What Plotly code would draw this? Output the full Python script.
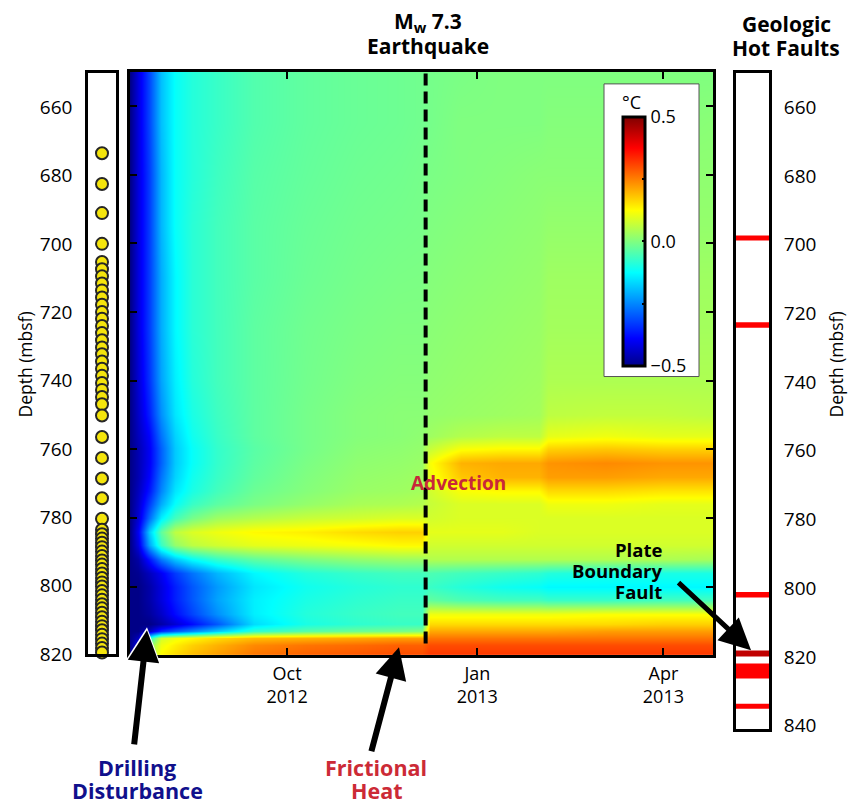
import plotly.graph_objects as go

# The photographed page comes out vertically compressed by ~804/816, so the figure is
# made 816 px tall; paper positions below are given in reference-picture pixels.
W, H = 853, 816
REF_H = 804
VS = H / REF_H
def px(x): return x / W
def py(y): return 1 - y / REF_H

# ---------------- data ----------------
dates = ["2012-07-17", "2012-07-21", "2012-07-26", "2012-08-01", "2012-08-08",
         "2012-08-16", "2012-08-28", "2012-09-15", "2012-10-10", "2012-11-04",
         "2012-11-24", "2012-12-05", "2012-12-09", "2012-12-24", "2013-01-13",
         "2013-01-31", "2013-02-04", "2013-03-04", "2013-04-01", "2013-04-25"]

depth = [650, 665, 680, 695, 710, 725, 740, 750, 756, 760, 764, 768, 772, 776,
         780, 784, 788, 792, 796, 800, 804, 808, 811, 813, 815, 817, 820]

temp_anomaly = [
    [-0.5, -0.42, -0.32, -0.19, -0.12, -0.09, -0.07, -0.045, -0.03, -0.022, -0.018, -0.014, -0.01, -0.005, 0.0, 0.0, 0.0, 0.0, 0.0, 0.0],
    [-0.5, -0.42, -0.32, -0.19, -0.12, -0.09, -0.07, -0.045, -0.03, -0.022, -0.018, -0.014, -0.01, 0.0, 0.0, 0.0, 0.005, 0.005, 0.005, 0.01],
    [-0.5, -0.42, -0.33, -0.2, -0.12, -0.09, -0.065, -0.04, -0.027, -0.018, -0.014, -0.01, -0.005, 0.0, 0.005, 0.01, 0.01, 0.01, 0.015, 0.015],
    [-0.5, -0.42, -0.33, -0.2, -0.12, -0.085, -0.06, -0.037, -0.023, -0.014, -0.01, -0.008, 0.0, 0.005, 0.01, 0.015, 0.02, 0.02, 0.02, 0.02],
    [-0.5, -0.42, -0.33, -0.21, -0.13, -0.085, -0.06, -0.037, -0.02, -0.01, -0.005, -0.004, 0.005, 0.01, 0.015, 0.02, 0.03, 0.03, 0.03, 0.03],
    [-0.5, -0.42, -0.33, -0.21, -0.13, -0.085, -0.06, -0.033, -0.015, -0.005, 0.0, 0.0, 0.01, 0.015, 0.02, 0.025, 0.035, 0.035, 0.035, 0.035],
    [-0.5, -0.43, -0.34, -0.22, -0.14, -0.09, -0.06, -0.033, -0.013, 0.0, 0.005, 0.005, 0.015, 0.02, 0.025, 0.03, 0.045, 0.045, 0.045, 0.045],
    [-0.5, -0.44, -0.36, -0.24, -0.15, -0.1, -0.065, -0.033, -0.01, 0.005, 0.01, 0.01, 0.02, 0.025, 0.03, 0.035, 0.06, 0.065, 0.065, 0.06],
    [-0.5, -0.45, -0.39, -0.27, -0.17, -0.11, -0.07, -0.033, -0.01, 0.005, 0.01, 0.015, 0.03, 0.05, 0.06, 0.06, 0.1, 0.11, 0.1, 0.1],
    [-0.5, -0.46, -0.4, -0.29, -0.18, -0.12, -0.075, -0.038, -0.01, 0.01, 0.015, 0.02, 0.07, 0.12, 0.13, 0.13, 0.17, 0.18, 0.17, 0.17],
    [-0.5, -0.46, -0.4, -0.29, -0.18, -0.12, -0.075, -0.035, -0.005, 0.015, 0.02, 0.025, 0.12, 0.2, 0.21, 0.21, 0.23, 0.24, 0.23, 0.23],
    [-0.5, -0.46, -0.39, -0.27, -0.17, -0.11, -0.07, -0.03, 0.0, 0.02, 0.025, 0.03, 0.11, 0.18, 0.2, 0.2, 0.22, 0.22, 0.21, 0.21],
    [-0.5, -0.45, -0.37, -0.25, -0.15, -0.1, -0.06, -0.02, 0.005, 0.025, 0.03, 0.035, 0.08, 0.12, 0.13, 0.13, 0.16, 0.16, 0.15, 0.15],
    [-0.5, -0.44, -0.33, -0.21, -0.12, -0.07, -0.035, -0.005, 0.02, 0.04, 0.045, 0.05, 0.07, 0.09, 0.09, 0.09, 0.11, 0.11, 0.1, 0.1],
    [-0.5, -0.43, -0.28, -0.14, -0.06, -0.01, 0.03, 0.05, 0.07, 0.08, 0.09, 0.09, 0.08, 0.09, 0.09, 0.09, 0.09, 0.09, 0.09, 0.09],
    [-0.5, -0.4, -0.18, -0.03, 0.06, 0.09, 0.11, 0.13, 0.14, 0.16, 0.17, 0.17, 0.1, 0.1, 0.1, 0.09, 0.09, 0.09, 0.09, 0.09],
    [-0.5, -0.42, -0.22, -0.07, 0.02, 0.06, 0.08, 0.1, 0.11, 0.12, 0.13, 0.13, 0.08, 0.08, 0.08, 0.08, 0.08, 0.08, 0.08, 0.08],
    [-0.5, -0.47, -0.37, -0.26, -0.18, -0.12, -0.07, -0.03, 0.0, 0.02, 0.03, 0.03, 0.05, 0.05, 0.05, 0.05, 0.05, 0.05, 0.045, 0.04],
    [-0.5, -0.49, -0.45, -0.4, -0.33, -0.27, -0.2, -0.13, -0.09, -0.07, -0.06, -0.06, -0.05, -0.06, -0.07, -0.08, -0.09, -0.1, -0.1, -0.1],
    [-0.5, -0.5, -0.47, -0.42, -0.36, -0.3, -0.23, -0.15, -0.11, -0.09, -0.08, -0.08, -0.07, -0.09, -0.11, -0.12, -0.13, -0.13, -0.13, -0.13],
    [-0.5, -0.5, -0.47, -0.42, -0.36, -0.3, -0.22, -0.14, -0.1, -0.08, -0.07, -0.07, -0.03, -0.05, -0.06, -0.06, -0.07, -0.07, -0.06, -0.06],
    [-0.5, -0.5, -0.48, -0.44, -0.38, -0.32, -0.24, -0.14, -0.09, -0.07, -0.06, -0.06, 0.11, 0.11, 0.11, 0.11, 0.11, 0.12, 0.12, 0.12],
    [-0.5, -0.5, -0.5, -0.47, -0.43, -0.38, -0.3, -0.16, -0.1, -0.08, -0.07, -0.07, 0.16, 0.16, 0.16, 0.16, 0.16, 0.16, 0.17, 0.17],
    [-0.5, -0.5, -0.45, -0.35, -0.3, -0.25, -0.18, -0.08, -0.04, -0.02, -0.01, 0.0, 0.21, 0.21, 0.21, 0.21, 0.21, 0.22, 0.22, 0.22],
    [-0.5, -0.45, -0.1, 0.08, 0.11, 0.13, 0.16, 0.19, 0.2, 0.21, 0.22, 0.22, 0.26, 0.26, 0.26, 0.26, 0.26, 0.26, 0.26, 0.26],
    [-0.5, -0.4, 0.0, 0.11, 0.14, 0.17, 0.2, 0.24, 0.26, 0.27, 0.28, 0.28, 0.3, 0.3, 0.3, 0.3, 0.3, 0.3, 0.3, 0.3],
    [-0.5, -0.4, 0.02, 0.13, 0.16, 0.19, 0.22, 0.26, 0.28, 0.29, 0.3, 0.3, 0.32, 0.32, 0.32, 0.32, 0.32, 0.32, 0.32, 0.32],
]

sensor_depth = [673.5, 682.5, 691.0, 700.0,
                705.3, 707.4, 709.5, 711.6, 713.6, 715.7, 717.8, 719.9, 721.9, 724.0,
                726.1, 728.2, 730.3, 732.3, 734.4, 736.5, 738.6, 740.7, 742.7, 744.8, 746.9,
                750.2, 756.5, 762.6, 768.6, 774.4, 780.4,
                783.6, 784.9, 786.2, 787.4, 788.7, 790.0, 791.3, 792.6, 793.8, 795.1,
                796.4, 797.7, 799.0, 800.2, 801.5, 802.8, 804.1, 805.4, 806.6, 807.9,
                809.2, 810.5, 811.8, 813.0, 814.3, 815.6, 816.9, 818.2, 819.5]

fault_top = [697.3, 722.6, 801.1, 818.1, 821.9, 833.6]
fault_bottom = [698.8, 724.2, 802.7, 819.9, 826.3, 835.1]
fault_color = ["#ff0000", "#ff0000", "#ff0000", "#c00000", "#ff0000", "#ff0000"]

quake_date = "2012-12-07"
depth_ticks = [660, 680, 700, 720, 740, 760, 780, 800, 820]
right_ticks = [660, 680, 700, 720, 740, 760, 780, 800, 820, 840]
time_ticks = ["2012-10-01", "2013-01-01", "2013-04-01"]
time_labels = ["Oct<br>2012", "Jan<br>2013", "Apr<br>2013"]
cbar_ticks = [-0.5, -0.25, 0.0, 0.25, 0.5]
cbar_labels = ["\u22120.5", "", "0.0", "", "0.5"]

jet = [[0.0, "rgb(0,0,135)"], [0.11, "rgb(0,0,255)"], [0.375, "rgb(0,255,255)"],
       [0.5, "rgb(128,255,128)"], [0.625, "rgb(255,255,0)"], [0.875, "rgb(255,0,0)"],
       [1.0, "rgb(128,0,0)"]]

FONT = "Open Sans"

fig = go.Figure()

fig.add_trace(go.Heatmap(
    x=dates, y=depth, z=temp_anomaly, zmin=-0.5, zmax=0.5, zsmooth="best",
    colorscale=jet, xaxis="x", yaxis="y", hoverinfo="skip",
    colorbar=dict(
        x=px(623), xanchor="left", xpad=0, y=py(117), yanchor="top", ypad=0,
        thicknessmode="pixels", thickness=22, lenmode="pixels", len=245 * VS,
        outlinewidth=3, outlinecolor="black", bgcolor="rgba(0,0,0,0)",
        tickvals=cbar_ticks, ticktext=cbar_labels, ticks="inside", ticklen=4,
        tickwidth=2, tickcolor="black",
        tickfont=dict(family=FONT, size=18, color="black"),
    ),
))

fig.add_trace(go.Scatter(
    x=[0.5] * len(sensor_depth), y=sensor_depth, mode="markers",
    marker=dict(size=12, color="#f5e50c", line=dict(width=2, color="#262626")),
    xaxis="x2", yaxis="y2", hoverinfo="skip", showlegend=False, cliponaxis=False,
))

fig.add_trace(go.Scatter(x=[0.5], y=[700], mode="markers", marker=dict(opacity=0),
                         xaxis="x3", yaxis="y3", hoverinfo="skip", showlegend=False))

shapes = []
shapes.append(dict(type="rect", xref="paper", yref="paper", x0=px(604), x1=px(699),
                   y0=py(377), y1=py(84), fillcolor="white",
                   line=dict(color="#555555", width=1), layer="above"))
shapes.append(dict(type="line", xref="x", yref="y domain", x0=quake_date, x1=quake_date,
                   y0=0.02, y1=1, line=dict(color="black", width=4, dash="12px,6px"),
                   layer="above"))
for t, b, c in zip(fault_top, fault_bottom, fault_color):
    shapes.append(dict(type="rect", xref="x3 domain", yref="y3", x0=0, x1=1,
                       y0=t, y1=b, fillcolor=c, line=dict(width=0), layer="below"))

ann = []
def txt(text, x, y, size, color="black", **kw):
    d = dict(text=text, x=px(x), y=py(y), xref="paper", yref="paper", showarrow=False,
             font=dict(family=FONT, size=size, color=color), xanchor="center",
             yanchor="middle")
    d.update(kw)
    ann.append(d)

NAVY = "#10108c"
RED = "#cc2a36"
txt("<b>M<sub>w</sub> 7.3</b>", 428, 22, 21)
txt("<b>Earthquake</b>", 428, 46, 21)
txt("<b>Geologic</b>", 786, 24, 21)
txt("<b>Hot Faults</b>", 786, 48, 21)
txt("<b>Drilling</b>", 137, 768, 21.5, NAVY)
txt("<b>Disturbance</b>", 137, 791, 21.5, NAVY)
txt("<b>Frictional</b>", 376, 768, 21.5, RED)
txt("<b>Heat</b>", 376, 791, 21.5, RED)
txt("<b>Advection</b>", 459, 484, 19, "#c8283a")
txt("<b>Plate</b>", 664, 550, 18.5, xanchor="right")
txt("<b>Boundary</b>", 664, 571, 18.5, xanchor="right")
txt("<b>Fault</b>", 664, 592, 18.5, xanchor="right")
txt("\u00b0C", 631, 102, 18)
txt("Depth (mbsf)", 25, 365, 17.5, textangle=-90)
txt("Depth (mbsf)", 836, 365, 17.5, textangle=-90)

def arrow(tipx, tipy, tailx, taily, width, color="black", size=1.0):
    ann.append(dict(text="", x=px(tipx), y=py(tipy), xref="paper", yref="paper",
                    showarrow=True, ax=tailx - tipx, ay=(taily - tipy) * VS,
                    arrowhead=2, arrowsize=size, arrowwidth=width, arrowcolor=color,
                    standoff=0))

arrow(147, 628, 134, 745, 8, "white", 0.9)
arrow(147, 631, 134, 745, 6, "black", 1.05)
arrow(399, 648, 371, 752, 6, size=1.05)
arrow(751, 651, 677, 583, 5, size=1.25)

axis_common = dict(showgrid=False, zeroline=False, linecolor="black", color="black")

fig.update_layout(
    width=W, height=H, margin=dict(l=0, r=0, t=0, b=0),
    paper_bgcolor="white", plot_bgcolor="white", showlegend=False,
    font=dict(family=FONT, size=19, color="black"),
    xaxis=dict(domain=[px(130), px(713)], anchor="y", type="date",
               range=["2012-07-17", "2013-04-25"], tickvals=time_ticks,
               ticktext=time_labels, ticks="inside", ticklen=7, tickwidth=2,
               tickcolor="black", showline=True, linewidth=3, mirror="ticks",
               tickfont=dict(family=FONT, size=18), **axis_common),
    yaxis=dict(domain=[py(656), py(72)], anchor="x", range=[820, 650],
               tickvals=depth_ticks, showticklabels=False, ticks="inside", ticklen=7,
               tickwidth=2, tickcolor="black", showline=True, linewidth=3,
               mirror="ticks", **axis_common),
    xaxis2=dict(domain=[px(88), px(116)], anchor="y2", range=[0, 1],
                showticklabels=False, ticks="", showline=True, linewidth=2.5,
                mirror=True, **axis_common),
    yaxis2=dict(domain=[py(655), py(73)], anchor="x2", range=[820, 650],
                tickvals=depth_ticks, ticks="outside", ticklen=9,
                tickcolor="rgba(0,0,0,0)", showline=True, linewidth=2.5, mirror=True,
                tickfont=dict(family=FONT, size=19), **axis_common),
    xaxis3=dict(domain=[px(736), px(769)], anchor="y3", range=[0, 1],
                showticklabels=False, ticks="", showline=True, linewidth=3,
                mirror=True, **axis_common),
    yaxis3=dict(domain=[py(730), py(73)], anchor="x3", range=[841, 650], side="right",
                tickvals=right_ticks, ticks="outside", ticklen=8,
                tickcolor="rgba(0,0,0,0)", showline=True, linewidth=3, mirror=True,
                tickfont=dict(family=FONT, size=19), **axis_common),
    shapes=shapes, annotations=ann,
)

# remove the browser's default 8 px page margin so the figure starts at the corner
fig.write_html("out.html", config={"displayModeBar": False},
               post_script="document.body.style.margin='0px';")
